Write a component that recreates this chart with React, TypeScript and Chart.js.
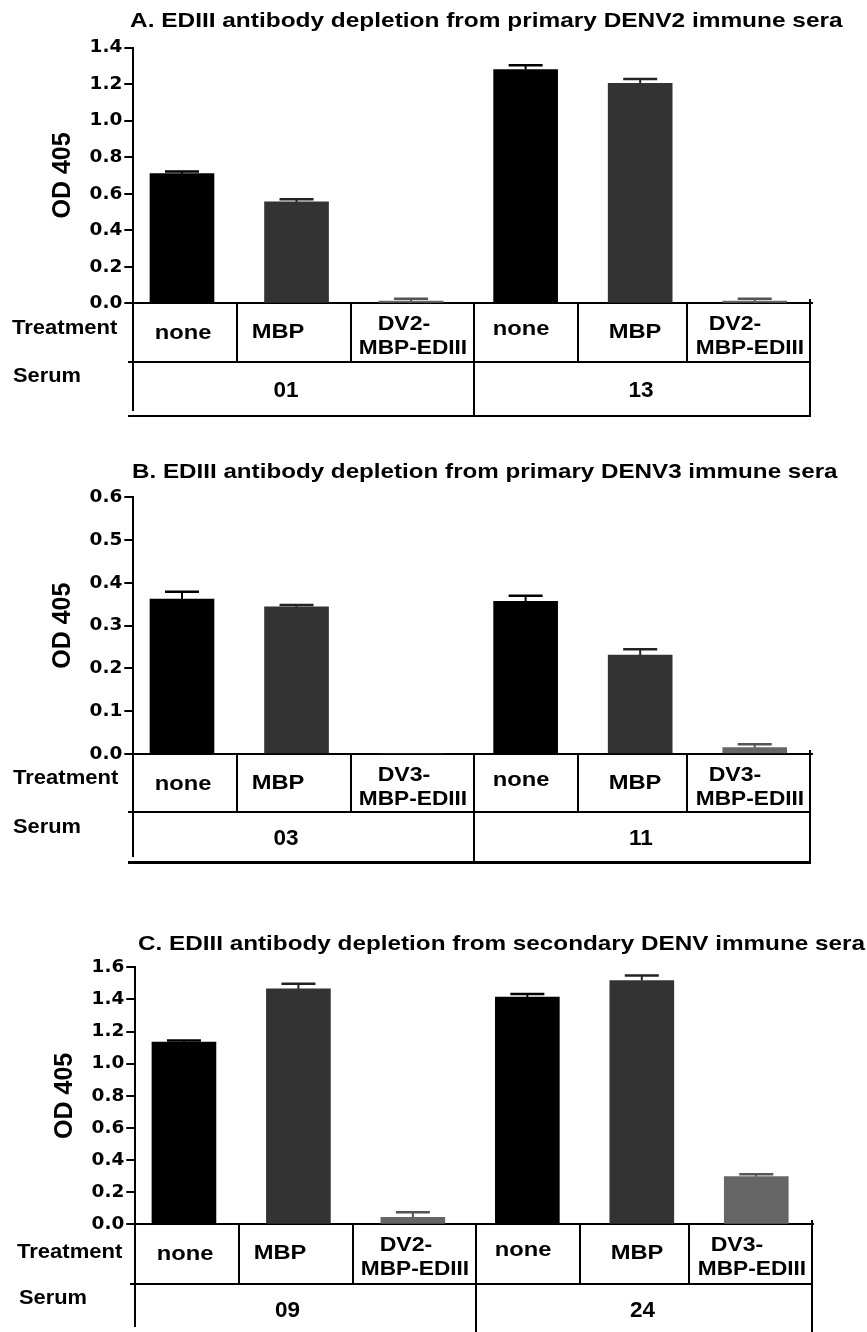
import React, { useEffect, useRef } from 'react';
import { Chart, registerables } from 'chart.js';

Chart.register(...registerables);

// ---------- DATA ----------
const titleA = 'A. EDIII antibody depletion from primary DENV2 immune sera';
const titleB = 'B. EDIII antibody depletion from primary DENV3 immune sera';
const titleC = 'C. EDIII antibody depletion from secondary DENV immune sera';

const treatmentsA = ['none', 'MBP', 'DV2-\nMBP-EDIII', 'none', 'MBP', 'DV2-\nMBP-EDIII'];
const treatmentsB = ['none', 'MBP', 'DV3-\nMBP-EDIII', 'none', 'MBP', 'DV3-\nMBP-EDIII'];
const treatmentsC = ['none', 'MBP', 'DV2-\nMBP-EDIII', 'none', 'MBP', 'DV3-\nMBP-EDIII'];

const seraA = ['01', '13'];
const seraB = ['03', '11'];
const seraC = ['09', '24'];

const valuesA = [0.71, 0.555, 0.012, 1.28, 1.205, 0.012];
const errorsA = [0.722, 0.57, 0.025, 1.303, 1.228, 0.025];

const valuesB = [0.362, 0.344, 0, 0.357, 0.231, 0.015];
const errorsB = [0.379, 0.348, null, 0.37, 0.245, 0.023];

const valuesC = [1.135, 1.466, 0.044, 1.414, 1.518, 0.297];
const errorsC = [1.144, 1.497, 0.075, 1.433, 1.549, 0.312];

const yTitle = 'OD 405';
const treatmentLabel = 'Treatment';
const serumLabel = 'Serum';

// ---------- STYLE / LAYOUT ----------
const BAR_COLORS = ['#000000', '#333333', '#666666', '#000000', '#333333', '#666666'];
const ERR_COLORS = ['#000000', '#222222', '#555555', '#000000', '#222222', '#555555'];
const CELL_X = [183, 278, 404, 521, 635, 735];
const CELL_X2 = [183, 278, 413, 521, 635, 750];
const CELL_DY = [28, 27, 19, 24, 27, 19];
const CELL_DY2 = 43;
const DIVIDERS = [237, 351, 578, 687];
const MID = 474;
const AXIS_X = 133.3;
const RIGHT_X = 810;
const SERUM_X = [286, 641];
const SANS = '"Liberation Sans", Arial, sans-serif';

const panels = [
  {
    title: titleA, treatments: treatmentsA, sera: seraA, values: valuesA, errors: errorsA,
    yMax: 1.4, yStep: 0.2, dx: 0, titleX: 130, titleY: 18.5, titleW: 713, areaTop: 47.6, base: 303.3,
    row1: 361.7, row2: 416, treatX: 12, treatY: 328, serumX: 13, serumY: 376, serumNumDy: 28,
  },
  {
    title: titleB, treatments: treatmentsB, sera: seraB, values: valuesB, errors: errorsB,
    yMax: 0.6, yStep: 0.1, dx: 0, titleX: 132, titleY: 470, titleW: 706, areaTop: 497.3, base: 754,
    row1: 812.3, row2: 862.3, treatX: 13, treatY: 778, serumX: 13, serumY: 826.7, serumNumDy: 26,
  },
  {
    title: titleC, treatments: treatmentsC, sera: seraC, values: valuesC, errors: errorsC,
    yMax: 1.6, yStep: 0.2, dx: 1.5, titleX: 137.7, titleY: 941.7, titleW: 727, areaTop: 967.3, base: 1224.3,
    row1: 1284, row2: null, treatX: 17, treatY: 1252, serumX: 19, serumY: 1298, serumNumDy: 26,
  },
];

const W = 867;
const H = 1332;

function HLine({ x1, x2, y, w = 2 }: any) {
  return <div style={{ position: 'absolute', left: x1, top: y - w / 2, width: x2 - x1, height: w, background: '#000' }} />;
}
function VLine({ x, y1, y2, w = 2 }: any) {
  return <div style={{ position: 'absolute', left: x - w / 2, top: y1, width: w, height: y2 - y1, background: '#000' }} />;
}

const baseText: React.CSSProperties = {
  position: 'absolute', fontFamily: SANS, fontWeight: 'bold', lineHeight: 1, whiteSpace: 'nowrap', color: '#000',
};

// text centred on (x, y), horizontally stretched by s
function CText({ x, y, size, s, children, family }: any) {
  return (
    <div
      style={{
        ...baseText, fontFamily: family || SANS, fontSize: size, left: x, top: y,
        transform: `translate(-50%, -50%) scaleX(${s})`,
      }}
    >
      {children}
    </div>
  );
}

// text left-anchored at x, vertically centred on y, stretched to width w (if given) or by s
function LText({ x, y, size, s, w, children }: any) {
  const r = useRef<HTMLDivElement>(null);
  useEffect(() => {
    if (w && r.current) {
      const nat = r.current.offsetWidth;
      if (nat > 0) r.current.style.transform = `translateY(-50%) scaleX(${w / nat})`;
    }
  }, [w]);
  return (
    <div
      ref={r}
      style={{
        ...baseText, fontSize: size, left: x, top: y, transformOrigin: 'left center',
        transform: `translateY(-50%) scaleX(${s || 1})`,
      }}
    >
      {children}
    </div>
  );
}

function Panel({ p }: any) {
  const ref = useRef<HTMLCanvasElement>(null);
  const canvasTop = Math.floor(p.areaTop - 40);
  const canvasH = Math.ceil(p.base + 20 - canvasTop);

  useEffect(() => {
    const errPlugin = {
      id: 'errbars',
      afterDatasetsDraw(chart: any) {
        const ctx = chart.ctx;
        const meta = chart.getDatasetMeta(0);
        const ys = chart.scales.y;
        meta.data.forEach((el: any, i: number) => {
          const e = p.errors[i];
          const v = p.values[i];
          if (e == null || v == null || e <= v) return;
          const yt = ys.getPixelForValue(e);
          const yb = ys.getPixelForValue(v);
          ctx.save();
          ctx.strokeStyle = ERR_COLORS[i];
          ctx.lineWidth = 2;
          ctx.beginPath();
          ctx.moveTo(el.x, yb);
          ctx.lineTo(el.x, yt);
          ctx.stroke();
          ctx.lineWidth = 2.5;
          ctx.beginPath();
          ctx.moveTo(el.x - 17, yt);
          ctx.lineTo(el.x + 17, yt);
          ctx.stroke();
          ctx.restore();
        });
      },
    };

    const chart = new Chart(ref.current as HTMLCanvasElement, {
      type: 'bar',
      data: {
        datasets: [
          {
            data: p.values.map((v: number, i: number) => ({ x: i, y: v })),
            backgroundColor: BAR_COLORS,
            borderWidth: 0,
            barThickness: 64,
          } as any,
        ],
      },
      options: {
        responsive: false,
        animation: false,
        devicePixelRatio: 1,
        events: [],
        layout: {
          padding: {
            top: p.areaTop - canvasTop,
            bottom: canvasTop + canvasH - p.base,
            left: 0,
            right: W - p.dx - 812,
          },
        },
        plugins: { legend: { display: false }, tooltip: { enabled: false }, title: { display: false } },
        scales: {
          x: {
            type: 'linear',
            offset: false,
            min: -0.425,
            max: 5.5,
            ticks: { display: false },
            grid: { display: false, offset: false },
            border: { display: true, color: '#000', width: 2 },
            afterFit: (s: any) => { s.height = 0; },
          },
          y: {
            min: 0,
            max: p.yMax,
            ticks: {
              stepSize: p.yStep,
              color: '#000',
              padding: 2,
              font: { family: '"DejaVu Sans", sans-serif', weight: 'bold', size: 18.5 },
              callback: (v: any) => Number(v).toFixed(1),
            },
            grid: { drawOnChartArea: false, drawTicks: true, tickLength: 9, color: '#000', lineWidth: 2 },
            border: { display: true, color: '#000', width: 2 },
            title: {
              display: true,
              text: yTitle,
              color: '#000',
              font: { family: SANS, weight: 'bold', size: 25 },
              padding: { top: 48.5, bottom: 0 },
            },
            afterFit: (s: any) => { s.width = AXIS_X; },
          },
        },
      } as any,
      plugins: [errPlugin],
    });
    return () => chart.destroy();
  }, []);

  const bottom = p.row2 == null ? H : p.row2;
  const T = p.base;

  return (
    <>
      <canvas
        ref={ref}
        width={W - p.dx}
        height={canvasH}
        style={{ position: 'absolute', left: p.dx, top: canvasTop, width: W - p.dx, height: canvasH }}
      />
      <LText x={p.titleX} y={p.titleY} size={21} w={p.titleW}>{p.title}</LText>
      {/* table lines */}
      {DIVIDERS.map((x) => (
        <VLine key={'d' + x} x={x + p.dx} y1={T} y2={p.row1} />
      ))}
      <VLine x={MID + p.dx} y1={T} y2={bottom} />
      <VLine x={AXIS_X + p.dx} y1={T} y2={bottom - 5} />
      <VLine x={RIGHT_X + p.dx} y1={T - 4} y2={bottom} />
      <HLine x1={128 + p.dx} x2={RIGHT_X + 1 + p.dx} y={p.row1} />
      {p.row2 != null && <HLine x1={128 + p.dx} x2={RIGHT_X + 1 + p.dx} y={p.row2} w={2.5} />}
      {/* row labels */}
      <LText x={p.treatX} y={p.treatY} size={19.5} s={1.13}>{treatmentLabel}</LText>
      <LText x={p.serumX} y={p.serumY} size={19.5} s={1.12}>{serumLabel}</LText>
      {/* treatment cells */}
      {p.treatments.map((t: string, i: number) => {
        const lines = t.split('\n');
        if (lines.length === 1) {
          return (
            <CText key={'t' + i} x={CELL_X[i] + p.dx} y={T + CELL_DY[i]} size={21} s={1.13}>{lines[0]}</CText>
          );
        }
        return (
          <React.Fragment key={'t' + i}>
            <CText x={CELL_X[i] + p.dx} y={T + CELL_DY[i]} size={21} s={1.1}>{lines[0]}</CText>
            <CText x={CELL_X2[i] + p.dx} y={T + CELL_DY2} size={21} s={1.08}>{lines[1]}</CText>
          </React.Fragment>
        );
      })}
      {/* serum numbers */}
      {p.sera.map((s: string, i: number) => (
        <CText key={'s' + i} x={SERUM_X[i] + p.dx} y={p.row1 + p.serumNumDy} size={22.5} s={1}>{s}</CText>
      ))}
    </>
  );
}

export default function App() {
  return (
    <div style={{ position: 'absolute', left: 0, top: 0, width: W, height: H, overflow: 'hidden', background: '#fff' }}>
      {panels.map((p, i) => (
        <Panel key={i} p={p} />
      ))}
    </div>
  );
}
